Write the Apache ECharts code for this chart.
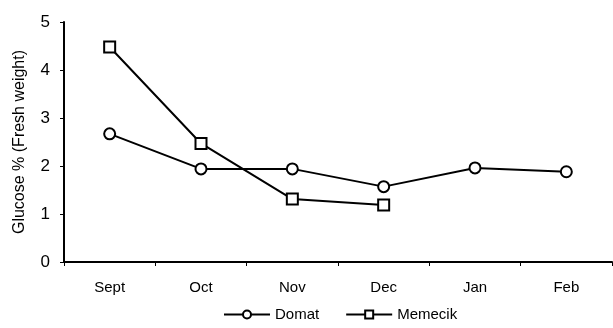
<!DOCTYPE html>
<html>
<head>
<meta charset="utf-8">
<script src="https://cdn.jsdelivr.net/npm/echarts@6/dist/echarts.min.js"></script>
<style>
  html, body { margin: 0; padding: 0; background: #fff; }
  #chart { width: 613px; height: 328px; }
</style>
</head>
<body>
<div id="chart"></div>
<script>
// 月份
var months = ["Sept", "Oct", "Nov", "Dec", "Jan", "Feb"];
// 葡萄糖含量
var domat = [2.67, 1.94, 1.94, 1.57, 1.96, 1.88];
var memecik = [4.48, 2.47, 1.31, 1.19, null, null];
var yTicks = [0, 1, 2, 3, 4, 5];

var font = "Liberation Sans, Arial, sans-serif";

var option = {
  backgroundColor: "#fff",
  animation: false,
  grid: { left: 64, right: 1, top: 22, bottom: 66 },
  legend: {
    bottom: 1,
    left: 218,
    itemWidth: 46,
    itemHeight: 10,
    itemGap: 26,
    textStyle: { color: "#000", fontSize: 15, fontFamily: font },
    data: ["Domat", "Memecik"]
  },
  xAxis: {
    type: "category",
    data: months,
    boundaryGap: true,
    axisLine: { lineStyle: { color: "#000", width: 2 } },
    axisTick: { show: true, length: 4, lineStyle: { color: "#000" } },
    axisLabel: { color: "#000", fontSize: 15, fontFamily: font, margin: 18 }
  },
  yAxis: {
    type: "value",
    min: yTicks[0],
    max: yTicks[yTicks.length - 1],
    interval: 1,
    name: "Glucose % (Fresh weight)",
    nameLocation: "middle",
    nameGap: 36,
    nameTextStyle: { color: "#000", fontSize: 16, fontFamily: font },
    axisLine: { show: true, lineStyle: { color: "#000", width: 2 } },
    axisTick: { show: true, length: 4, lineStyle: { color: "#000" } },
    axisLabel: { color: "#000", fontSize: 17, fontFamily: font, margin: 14 },
    splitLine: { show: false }
  },
  series: [
    {
      name: "Domat",
      type: "line",
      data: domat,
      symbol: "circle",
      symbolSize: 11,
      lineStyle: { color: "#000", width: 2 },
      itemStyle: { color: "#fff", borderColor: "#000", borderWidth: 2 }
    },
    {
      name: "Memecik",
      type: "line",
      data: memecik,
      symbol: "rect",
      symbolSize: 11,
      connectNulls: false,
      lineStyle: { color: "#000", width: 2 },
      itemStyle: { color: "#fff", borderColor: "#000", borderWidth: 2 }
    }
  ]
};

var chart = echarts.init(document.getElementById("chart"));
chart.setOption(option);
</script>
</body>
</html>
